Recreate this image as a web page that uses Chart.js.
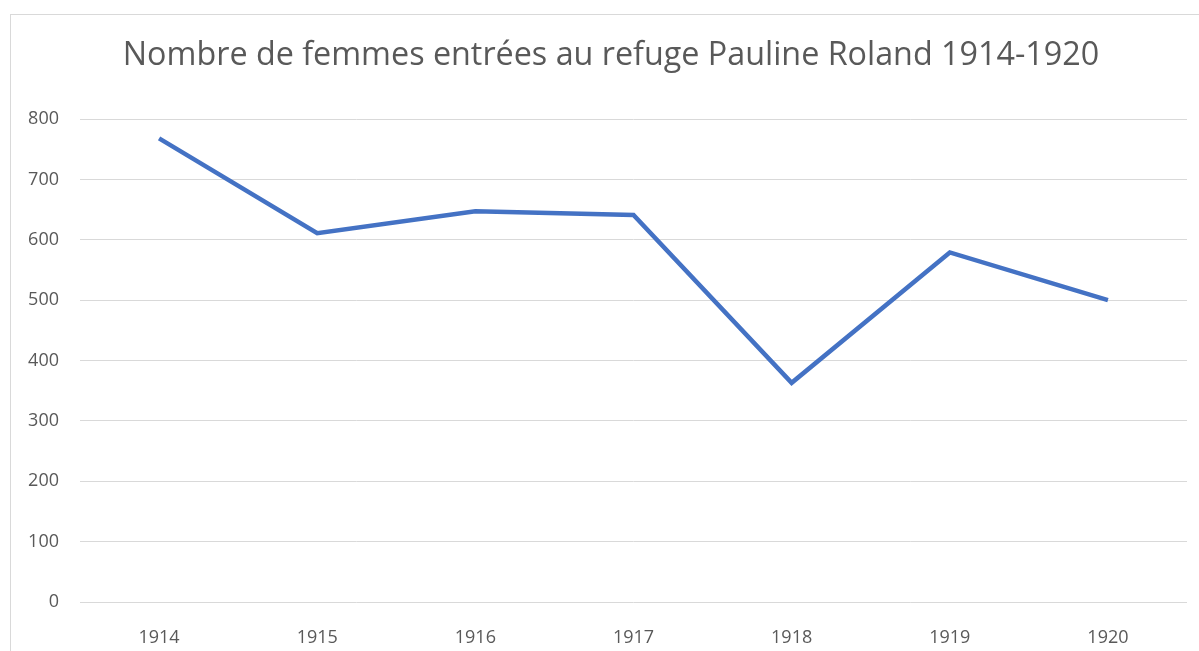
<!DOCTYPE html>
<html>
<head>
<meta charset="utf-8">
<script src="https://cdn.jsdelivr.net/npm/chart.js@4"></script>
<style>
  html, body { margin: 0; padding: 0; background: #fff; overflow: hidden; }
  #cadre { position: absolute; left: 10px; top: 14px; width: 1189px; height: 637px;
           border-left: 1px solid #d9d9d9; border-top: 1px solid #d9d9d9; }
  #graf { display: block; }
</style>
</head>
<body>
<div id="cadre"><canvas id="graf" width="1188" height="636"></canvas></div>
<script>
// donnees
var annees = ['1914', '1915', '1916', '1917', '1918', '1919', '1920'];
var femmes = [768, 611, 647, 641, 363, 579, 500];
var titre = 'Nombre de femmes entrées au refuge Pauline Roland 1914-1920';

// titre centre sur tout le cadre (comme Excel), pas sur la zone de trace
var titrePlugin = {
    id: 'titreCadre',
    afterDraw: function(chart) {
        var ctx = chart.ctx;
        ctx.save();
        ctx.font = '32.3px "Open Sans"';
        ctx.fillStyle = '#595959';
        ctx.textAlign = 'center';
        ctx.textBaseline = 'middle';
        ctx.fillText(titre, chart.width / 2 + 6, 41);
        ctx.restore();
    }
};

var graf = new Chart(document.getElementById('graf'), {
    type: 'line',
    data: {
        labels: annees,
        datasets: [{
            label: 'Femmes entrées',
            data: femmes,
            borderColor: '#4472c4',
            borderWidth: 4.5,
            pointRadius: 0,
            fill: false,
            tension: 0
        }]
    },
    options: {
        responsive: false,
        animation: false,
        layout: { padding: { left: 0, right: 12, top: 104, bottom: 0 } },
        plugins: {
            legend: { display: false },
            tooltip: { enabled: false },
            title: { display: false }
        },
        scales: {
            x: {
                offset: true,
                grid: { display: false },
                border: { display: false },
                ticks: { color: '#595959', font: { family: 'Open Sans', size: 18 }, padding: 17 },
                afterFit: function(s) { s.height = 49; }
            },
            y: {
                min: 0,
                max: 800,
                ticks: { stepSize: 100, color: '#595959', font: { family: 'Open Sans', size: 18 }, padding: 21 },
                grid: { color: '#d9d9d9', lineWidth: 1, drawTicks: false },
                border: { display: false },
                afterFit: function(s) { s.width = 69; }
            }
        }
    },
    plugins: [titrePlugin]
});
</script>
</body>
</html>
